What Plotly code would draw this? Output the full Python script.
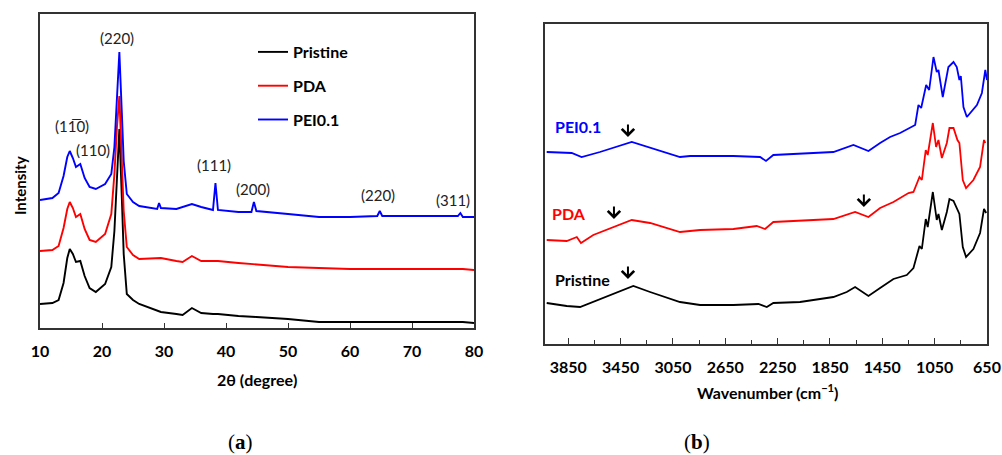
import plotly.graph_objects as go

W, H = 1002, 455

# ---------------- Panel (a): XRD ----------------
two_theta = [10, 12, 13, 13.8, 14.4, 14.8, 15.3, 15.8, 16.5, 17.2, 18, 19, 20.5, 21.5, 22,
             22.4, 22.8, 23.2, 23.5, 24, 25, 26, 28.9, 29.2, 29.5, 32, 33, 34.5, 36, 37.9,
             38.3, 38.7, 42, 44.1, 44.5, 44.9, 50, 55, 60, 64.4, 64.8, 65.2, 70, 77.4, 77.8,
             78.2, 80]
xrd_pristine = [24, 25, 28, 45, 70, 79, 74, 66, 67, 52, 40, 36, 44, 61, 97,
                150, 199, 130, 74, 34, 28, 24, 17, 17, 16, 14, 13, 20, 15, 14,
                14, 14, 12, 11, 11, 11, 9, 6, 6, 6, 6, 6, 6, 6, 6,
                6, 5]
xrd_pda = [77, 78, 82, 100, 119, 126, 120, 111, 114, 99, 88, 86, 94, 114, 154,
           200, 232, 175, 117, 81, 73, 69, 70, 70, 70, 67, 66, 72, 67, 67,
           67, 67, 65, 64, 64, 64, 61, 60, 59, 59, 59, 59, 59, 59, 59,
           59, 58]
xrd_pei = [128, 130, 135, 152, 171, 177, 170, 161, 164, 150, 141, 139, 144, 154, 181,
           230, 276, 215, 167, 134, 126, 122, 119, 125, 120, 119, 121, 124, 121, 118,
           145, 118, 116, 116, 126, 117, 114, 111, 111, 112, 117, 112, 112, 112, 115,
           111, 111]
xrd_ticks = [10, 20, 30, 40, 50, 60, 70, 80]

peak_labels = ["(220)", "(1" + "1\u0305" + "0)", "(110)", "(111)", "(200)", "(220)", "(311)"]
peak_x = [22.4, 15.2, 18.5, 38.1, 44.4, 64.5, 76.6]
peak_y = [290, 202, 178, 163, 139, 133, 128]

# ---------------- Panel (b): FTIR ----------------
wn_pristine = [4015, 3862, 3760, 3684, 3531, 3353, 3225, 2996, 2843, 2588, 2397, 2333, 2283,
               2079, 1824, 1722, 1658, 1556, 1467, 1365, 1263, 1212, 1166, 1148, 1118, 1103,
               1064, 1034, 1021, 995, 957, 937, 906, 876, 861, 835, 810, 754, 703, 673, 656]
ftir_pristine = [41, 38, 37, 41, 49, 58, 52, 42, 39, 39, 40, 37, 41,
                 42, 47, 52, 57, 48, 56, 65, 69, 76, 98, 95, 125, 117,
                 152, 124, 130, 114, 132, 145, 143, 134, 130, 97, 87, 95, 111, 135, 131]
wn_pda = [4015, 3862, 3785, 3753, 3659, 3506, 3365, 3225, 2996, 2843, 2588, 2410, 2346, 2283,
          2079, 1824, 1658, 1556, 1467, 1365, 1250, 1212, 1166, 1148, 1118, 1103, 1064, 1039,
          1021, 995, 957, 937, 906, 876, 861, 835, 810, 754, 703, 673, 663]
ftir_pda = [104, 103, 107, 101, 109, 117, 124, 121, 112, 114, 115, 118, 115, 122,
            123, 125, 132, 127, 136, 142, 151, 152, 167, 164, 194, 189, 221, 197,
            204, 186, 201, 216, 216, 204, 201, 164, 156, 164, 177, 204, 201]
wn_pei = [4015, 3824, 3748, 3608, 3365, 3174, 2996, 2919, 2588, 2384, 2339, 2283, 2079, 1824,
          1671, 1556, 1467, 1391, 1314, 1238, 1199, 1174, 1153, 1115, 1092, 1059, 1034, 1021,
          988, 945, 906, 881, 861, 850, 830, 804, 727, 689, 663, 650]
ftir_pei = [192, 191, 187, 192, 202, 194, 187, 188, 188, 187, 183, 189, 190, 192,
            199, 193, 201, 207, 211, 216, 219, 239, 236, 259, 254, 287, 272, 274,
            247, 277, 282, 277, 264, 268, 237, 227, 239, 251, 274, 264]
ftir_ticks = [3850, 3450, 3050, 2650, 2250, 1850, 1450, 1050, 650]
ftir_minor = [3650, 3250, 2850, 2450, 2050, 1650, 1250, 850]

curve_names = ["Pristine", "PDA", "PEI0.1"]
curve_colors = ["#000000", "#ff0000", "#0000ff"]
label_wn = [3745, 3845, 3776]
label_y = [65, 131, 218]
arrow_wn = [3394, 3501, 1591, 3394]
arrow_y = [65, 125, 137, 207]

FONT = "Lato, 'Open Sans', sans-serif"

fig = go.Figure()

for name, color, ys in zip(curve_names, curve_colors, [xrd_pristine, xrd_pda, xrd_pei]):
    fig.add_trace(go.Scatter(x=two_theta, y=ys, mode="lines", name=name,
                             line=dict(color=color, width=1.9),
                             xaxis="x", yaxis="y", legendgroup=name, showlegend=True))

for name, color, xs, ys in zip(curve_names, curve_colors,
                               [wn_pristine, wn_pda, wn_pei],
                               [ftir_pristine, ftir_pda, ftir_pei]):
    fig.add_trace(go.Scatter(x=xs, y=ys, mode="lines", name=name,
                             line=dict(color=color, width=1.8),
                             xaxis="x2", yaxis="y2", showlegend=False))

def px(x):
    return x / W

def py(y):
    return 1 - y / H

axis_line = dict(showline=True, mirror=True, linecolor="#333333", linewidth=1.5,
                 showgrid=False, zeroline=False, automargin=False)

fig.update_layout(
    width=W, height=H,
    margin=dict(l=0, r=0, t=0, b=0, pad=0, autoexpand=False),
    paper_bgcolor="white", plot_bgcolor="white",
    font=dict(family=FONT, color="#000000"),
    xaxis=dict(domain=[px(40), px(474)], range=[10, 80], anchor="y",
               tickmode="array", tickvals=xrd_ticks, ticks="inside", ticklen=5,
               tickwidth=1.3, tickcolor="#333333", ticklabelstandoff=8,
               tickfont=dict(family=FONT, size=16, weight="bold", color="#000"),
               **axis_line),
    yaxis=dict(domain=[py(328), py(14)], range=[0, 314], anchor="x",
               showticklabels=False, ticks="", **axis_line),
    xaxis2=dict(domain=[px(545), px(987)], range=[4028, 650], anchor="y2",
                tickmode="array", tickvals=ftir_ticks, ticks="inside", ticklen=6,
                tickwidth=1.3, tickcolor="#333333", ticklabelstandoff=8,
                minor=dict(tickmode="array", tickvals=ftir_minor, ticks="inside",
                           ticklen=4, tickwidth=1.2, tickcolor="#333333"),
                tickfont=dict(family=FONT, size=16, weight="bold", color="#000"),
                **axis_line),
    yaxis2=dict(domain=[py(344), py(24)], range=[0, 320], anchor="x2",
                showticklabels=False, ticks="", **axis_line),
    legend=dict(x=px(253), y=py(35), xanchor="left", yanchor="top",
                bgcolor="rgba(0,0,0,0)", tracegroupgap=10,
                font=dict(family=FONT, size=16, weight="bold", color="#000")),
)

C = dict(xanchor="center", yanchor="middle", showarrow=False)
ann = []
ann.append(dict(text="<b>Intensity</b>", x=px(20), y=py(186), xref="paper", yref="paper",
                textangle=-90, font=dict(family=FONT, size=15), **C))
ann.append(dict(text="<b>2θ (degree)</b>", x=px(257), y=py(379), xref="paper", yref="paper",
                font=dict(family=FONT, size=16), **C))
ann.append(dict(text="<b>Wavenumber (cm<sup>−1</sup>)</b>", x=px(768), y=py(391),
                xref="paper", yref="paper", font=dict(family=FONT, size=16), **C))
ann.append(dict(text="(<b>a</b>)", x=px(240), y=py(442), xref="paper", yref="paper",
                font=dict(family="'Liberation Serif', serif", size=21), **C))
ann.append(dict(text="(<b>b</b>)", x=px(697), y=py(442), xref="paper", yref="paper",
                font=dict(family="'Liberation Serif', serif", size=21), **C))
for t, x, y in zip(peak_labels, peak_x, peak_y):
    ann.append(dict(text=t, x=x, y=y, xref="x", yref="y",
                    font=dict(family=FONT, size=15, color="#222"), **C))
for t, c, x, y in zip(curve_names, curve_colors, label_wn, label_y):
    ann.append(dict(text="<b>" + t + "</b>", x=x, y=y, xref="x2", yref="y2",
                    font=dict(family=FONT, size=16, color=c), **C))
for x, y in zip(arrow_wn, arrow_y):
    ann.append(dict(text="", x=x, y=y, xref="x2", yref="y2", showarrow=True,
                    ax=0, ay=-14, arrowhead=4, arrowsize=1.2, arrowwidth=2,
                    arrowcolor="#000"))
fig.update_layout(annotations=ann)

fig.write_html("out.html", config={"displayModeBar": False},
               post_script="document.body.style.margin='0px';document.body.style.overflow='hidden';")
